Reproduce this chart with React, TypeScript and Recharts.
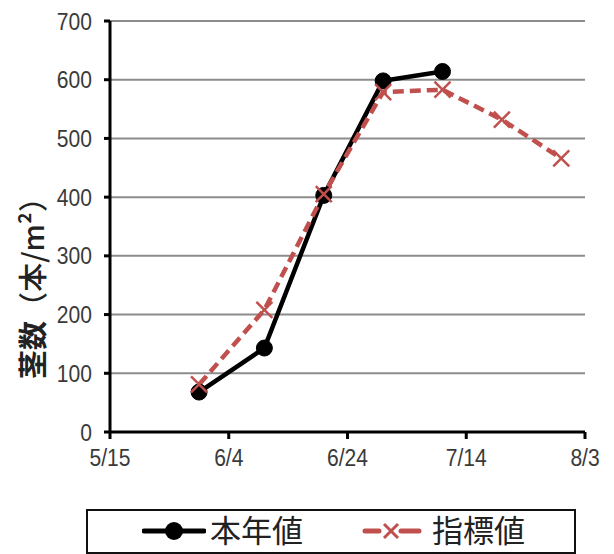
import { LineChart, Line, CartesianGrid, XAxis, YAxis } from "recharts";

// days counted from 5/15 (5/30, 6/10, 6/20, 6/30, 7/10, 7/20, 7/30)
const dayOffsets = [15, 26, 36, 46, 56, 66, 76];
const thisYear = [68, 143, 403, 598, 614];
const indexValues = [81, 208, 405, 579, 583, 532, 466];

const xTicks = [0, 20, 40, 60, 80];
const xTickLabels = ["5/15", "6/4", "6/24", "7/14", "8/3"];
const yTicks = [0, 100, 200, 300, 400, 500, 600, 700];

const data = dayOffsets.map((day, i) => ({
  day,
  thisYear: i < thisYear.length ? thisYear[i] : null,
  index: indexValues[i],
}));

const RED = "#c0504d";

// narrow tick text, squeezed horizontally like the original
function NarrowTick(props: any) {
  const { x, y, payload, textAnchor, tickFormatter, dy } = props;
  const label = tickFormatter ? tickFormatter(payload.value, payload.index) : payload.value;
  return (
    <text
      transform={`translate(${x}, ${y}) scale(0.86, 1)`}
      textAnchor={textAnchor}
      dy={dy}
      fontFamily="'Liberation Sans', Arial, sans-serif"
      fontSize={24.5}
      fill="#3a3a3a"
    >
      {label}
    </text>
  );
}

function CrossDot(props: any) {
  const { cx, cy } = props;
  if (cx == null || cy == null) return null;
  const s = 8;
  return (
    <g stroke={RED} strokeWidth={2.5}>
      <line x1={cx - s} y1={cy - s} x2={cx + s} y2={cy + s} />
      <line x1={cx - s} y1={cy + s} x2={cx + s} y2={cy - s} />
    </g>
  );
}

function YLabel() {
  return (
    <text
      x={31}
      y={281}
      transform="rotate(-90, 31, 281)"
      textAnchor="middle"
      dominantBaseline="central"
      fontFamily="'Noto Sans CJK JP', sans-serif"
      fontSize={29}
      fill="#222"
    >
      <tspan fontWeight={700}>茎数</tspan>
      <tspan fontWeight={500}>（本/m²）</tspan>
    </text>
  );
}

export default function App() {
  return (
    <div style={{ position: "absolute", left: 0, top: 0, width: 614, height: 554, background: "#fff" }}>
      <LineChart
        width={614}
        height={554}
        data={data}
        margin={{ top: 21, right: 29, left: 0, bottom: 92 }}
      >
        <CartesianGrid vertical={false} stroke="#8c8c8c" strokeWidth={2} />
        <XAxis
          dataKey="day"
          type="number"
          domain={[0, 80]}
          ticks={xTicks}
          tickFormatter={(v: number) => xTickLabels[xTicks.indexOf(v)]}
          height={30}
          tickSize={7}
          tickMargin={10}
          axisLine={{ stroke: "#000", strokeWidth: 3 }}
          tickLine={{ stroke: "#000", strokeWidth: 3 }}
          tick={<NarrowTick dy={17} />}
        />
        <YAxis
          type="number"
          domain={[0, 700]}
          ticks={yTicks}
          width={110}
          tickSize={6}
          tickMargin={12}
          axisLine={{ stroke: "#000", strokeWidth: 3 }}
          tickLine={{ stroke: "#000", strokeWidth: 3 }}
          tick={<NarrowTick dy={8.5} />}
          label={<YLabel />}
        />
        <Line
          dataKey="thisYear"
          name="本年値"
          stroke="#000"
          strokeWidth={4.5}
          dot={{ r: 8, fill: "#000", stroke: "#000", strokeWidth: 1 }}
          activeDot={false}
          isAnimationActive={false}
        />
        <Line
          dataKey="index"
          name="指標値"
          stroke={RED}
          strokeWidth={4.5}
          strokeDasharray="11 6"
          dot={<CrossDot />}
          activeDot={false}
          isAnimationActive={false}
        />
      </LineChart>
      <div
        style={{
          position: "absolute",
          left: 86,
          top: 509,
          width: 486,
          height: 41,
          border: "2px solid #111",
          fontFamily: "'Noto Sans CJK JP', sans-serif",
          fontSize: 31,
          color: "#222",
        }}
      >
        <svg width={64} height={20} style={{ position: "absolute", left: 54, top: 10 }}>
          <line x1={2} y1={10} x2={62} y2={10} stroke="#000" strokeWidth={5} strokeLinecap="round" />
          <circle cx={32} cy={10} r={9} fill="#000" />
        </svg>
        <span style={{ position: "absolute", left: 122, top: -4, lineHeight: "44px" }}>本年値</span>
        <svg width={64} height={20} style={{ position: "absolute", left: 273, top: 10 }}>
          <line x1={4} y1={10} x2={18} y2={10} stroke={RED} strokeWidth={5} strokeLinecap="round" />
          <line x1={40} y1={10} x2={58} y2={10} stroke={RED} strokeWidth={5} strokeLinecap="round" />
          <line x1={23} y1={3} x2={37} y2={17} stroke={RED} strokeWidth={3} />
          <line x1={23} y1={17} x2={37} y2={3} stroke={RED} strokeWidth={3} />
        </svg>
        <span style={{ position: "absolute", left: 344, top: -4, lineHeight: "44px" }}>指標値</span>
      </div>
    </div>
  );
}
